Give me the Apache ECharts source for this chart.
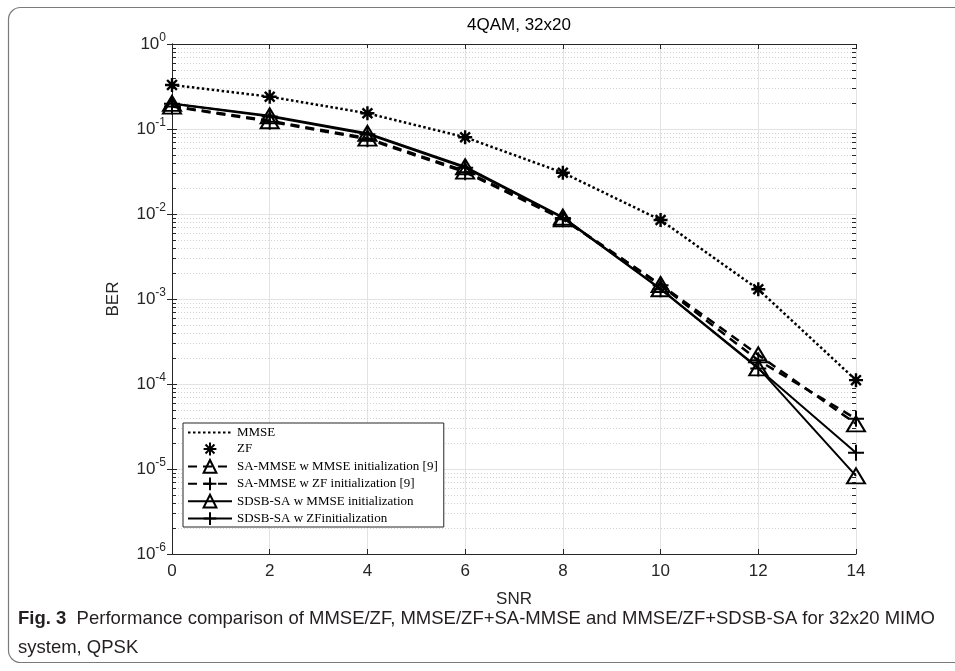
<!DOCTYPE html>
<html>
<head>
<meta charset="utf-8">
<title>4QAM, 32x20</title>
<script src="https://cdn.jsdelivr.net/npm/echarts@6.0.0/dist/echarts.min.js"></script>
<style>
  html, body { margin: 0; padding: 0; background: #fff; }
  #chart { width: 955px; height: 671px; }
</style>
</head>
<body>
<div id="chart"></div>
<script>
// SNR points
const snr = [0, 2, 4, 6, 8, 10, 12, 14];
// BER values
const mmse = [0.33, 0.24, 0.153, 0.080, 0.0306, 0.0085, 0.0013, 0.000111];
const zf = [0.33, 0.24, 0.153, 0.080, 0.0306, 0.0085, 0.0013, 0.000111];
const saMmseInit = [0.186, 0.125, 0.078, 0.032, 0.0088, 0.00148, 0.00022, 0.000034];
const saZfInit = [0.184, 0.122, 0.076, 0.031, 0.0087, 0.00145, 0.00019, 0.000039];
const sdsbMmseInit = [0.200, 0.143, 0.089, 0.036, 0.0092, 0.00132, 0.000155, 0.0000083];
const sdsbZfInit = [0.198, 0.140, 0.087, 0.035, 0.0090, 0.00130, 0.000152, 0.0000155];

const seriesNames = [
  'MMSE',
  'ZF',
  'SA-MMSE w MMSE initialization [9]',
  'SA-MMSE w ZF initialization [9]',
  'SDSB-SA w MMSE initialization',
  'SDSB-SA w ZFinitialization'
];
const xTicks = [0, 2, 4, 6, 8, 10, 12, 14];
const yDecades = [-6, -5, -4, -3, -2, -1, 0];

const axisColor = '#262626';
const sansFont = 'Liberation Sans, Arial, sans-serif';
const starPath = 'path://M0,-10L0,10M-10,0L10,0M-7,-7L7,7M-7,7L7,-7';
const plusPath = 'path://M0,-10L0,10M-10,0L10,0';
const triPath = 'path://M0,-9L10,8L-10,8Z';

function pairs (ys) {
  return snr.map((x, i) => [x, ys[i]]);
}

// minor log grid positions (2..9 x 10^k)
const minorVals = [];
yDecades.slice(0, -1).forEach(e => {
  for (let m = 2; m <= 9; m++) minorVals.push([0, m * Math.pow(10, e)]);
});

const chart = echarts.init(document.getElementById('chart'));

const markerStyle = {
  color: 'rgba(255,255,255,0)',
  borderColor: '#000',
  borderWidth: 2
};

const option = {
  animation: false,
  backgroundColor: '#fff',
  title: {
    text: '4QAM, 32x20',
    left: 514,
    textAlign: 'center',
    top: 12,
    textStyle: {
      fontFamily: sansFont,
      fontSize: 17,
      fontWeight: 'normal',
      color: '#000'
    }
  },
  grid: {
    left: 172,
    right: 99,
    top: 44,
    bottom: 117
  },
  legend: {
    data: seriesNames,
    orient: 'vertical',
    left: 183,
    top: 423,
    itemWidth: 44,
    itemHeight: 16,
    itemGap: 2.6,
    padding: [3, 6, 1, 4],
    backgroundColor: '#fff',
    borderColor: axisColor,
    borderWidth: 1,
    borderRadius: 0,
    textStyle: {
      fontFamily: 'Liberation Serif, Times New Roman, serif',
      fontSize: 13,
      color: '#000'
    }
  },
  xAxis: [
    {
      type: 'value',
      min: 0,
      max: 14,
      interval: 2,
      name: 'SNR',
      nameLocation: 'middle',
      nameGap: 37,
      nameTextStyle: {
        fontFamily: sansFont,
        fontSize: 17,
        color: axisColor
      },
      axisLine: { lineStyle: { color: axisColor, width: 1 } },
      axisTick: { inside: true, length: 5, lineStyle: { color: axisColor } },
      axisLabel: {
        margin: 9,
        fontFamily: sansFont,
        fontSize: 17,
        color: axisColor
      },
      splitLine: { show: true, lineStyle: { color: '#e3e3e3', width: 1 } }
    },
    {
      type: 'value',
      position: 'top',
      min: 0,
      max: 14,
      interval: 2,
      axisLine: { lineStyle: { color: axisColor, width: 1 } },
      axisTick: { inside: true, length: 5, lineStyle: { color: axisColor } },
      axisLabel: { show: false },
      splitLine: { show: false }
    }
  ],
  yAxis: [
    {
      type: 'log',
      logBase: 10,
      min: 1e-6,
      max: 1,
      name: 'BER',
      nameLocation: 'middle',
      nameGap: 50,
      nameTextStyle: {
        fontFamily: sansFont,
        fontSize: 17,
        color: axisColor
      },
      axisLine: { show: true, lineStyle: { color: axisColor, width: 1 } },
      axisTick: { show: true, inside: true, length: 5, lineStyle: { color: axisColor } },
      axisLabel: {
        margin: 6,
        color: axisColor,
        formatter: function (v) {
          const e = Math.round(Math.log10(v));
          return '{b|10}{s|' + e + '}';
        },
        rich: {
          b: {
            fontFamily: sansFont,
            fontSize: 17,
            color: axisColor
          },
          s: {
            fontFamily: sansFont,
            fontSize: 12,
            color: axisColor,
            padding: [0, 0, 12, 0]
          }
        }
      },
      splitLine: { show: true, lineStyle: { color: '#e3e3e3', width: 1 } }
    },
    {
      type: 'log',
      logBase: 10,
      position: 'right',
      min: 1e-6,
      max: 1,
      axisLine: { show: true, lineStyle: { color: axisColor, width: 1 } },
      axisTick: { show: true, inside: true, length: 5, lineStyle: { color: axisColor } },
      axisLabel: { show: false },
      splitLine: { show: false }
    }
  ],
  graphic: [
    {
      type: 'rect',
      shape: { x: 8.5, y: 7.5, width: 960, height: 655, r: 12 },
      style: { fill: 'none', stroke: '#7a7a7a', lineWidth: 1.2 },
      silent: true,
      z: 100
    },
    {
      type: 'text',
      left: 18,
      top: 609,
      style: {
        text: '{b|Fig. 3}  Performance comparison of MMSE/ZF, MMSE/ZF+SA-MMSE and MMSE/ZF+SDSB-SA for 32x20 MIMO',
        fontFamily: sansFont,
        fontSize: 18.5,
        fill: '#231f20',
        rich: {
          b: {
            fontFamily: sansFont,
            fontSize: 18.5,
            fontWeight: 'bold',
            fill: '#231f20'
          }
        }
      },
      z: 100
    },
    {
      type: 'text',
      left: 18,
      top: 638,
      style: {
        text: 'system, QPSK',
        fontFamily: sansFont,
        fontSize: 18.5,
        fill: '#231f20'
      },
      z: 100
    }
  ],
  series: [
    {
      type: 'custom',
      name: 'minor',
      silent: true,
      clip: false,
      z: 1,
      data: minorVals,
      renderItem: function (params, api) {
        const v = api.value(1);
        const p0 = api.coord([0, v]);
        const p1 = api.coord([14, v]);
        const y = Math.round(p0[1]) + 0.5;
        return {
          type: 'group',
          children: [
            {
              type: 'line',
              shape: { x1: p0[0], y1: y, x2: p1[0], y2: y },
              style: { stroke: '#d2d2d2', lineWidth: 1, lineDash: [1, 2] }
            },
            {
              type: 'line',
              shape: { x1: p0[0], y1: y, x2: p0[0] + 4, y2: y },
              style: { stroke: axisColor, lineWidth: 1 }
            },
            {
              type: 'line',
              shape: { x1: p1[0] - 4, y1: y, x2: p1[0], y2: y },
              style: { stroke: axisColor, lineWidth: 1 }
            }
          ]
        };
      }
    },
    {
      name: seriesNames[0],
      type: 'line',
      data: pairs(mmse),
      symbol: 'circle',
      showSymbol: false,
      z: 3,
      lineStyle: { color: '#000', width: 2.5, type: [2.5, 2.5] },
      itemStyle: { color: 'rgba(0,0,0,0)', borderWidth: 0 }
    },
    {
      name: seriesNames[1],
      type: 'line',
      data: pairs(zf),
      symbol: starPath,
      symbolSize: 14,
      z: 4,
      lineStyle: { color: '#000', width: 0 },
      itemStyle: { color: 'rgba(0,0,0,0)', borderColor: '#000', borderWidth: 2.4 }
    },
    {
      name: seriesNames[2],
      type: 'line',
      data: pairs(saMmseInit),
      symbol: triPath,
      symbolSize: [18, 15],
      z: 5,
      lineStyle: { color: '#000', width: 2.5, type: [9, 6] },
      itemStyle: markerStyle
    },
    {
      name: seriesNames[3],
      type: 'line',
      data: pairs(saZfInit),
      symbol: plusPath,
      symbolSize: 16,
      z: 5,
      lineStyle: { color: '#000', width: 2.5, type: [9, 6] },
      itemStyle: markerStyle
    },
    {
      name: seriesNames[4],
      type: 'line',
      data: pairs(sdsbMmseInit),
      symbol: triPath,
      symbolSize: [18, 15],
      z: 6,
      lineStyle: { color: '#000', width: 2 },
      itemStyle: markerStyle
    },
    {
      name: seriesNames[5],
      type: 'line',
      data: pairs(sdsbZfInit),
      symbol: plusPath,
      symbolSize: 16,
      z: 6,
      lineStyle: { color: '#000', width: 2 },
      itemStyle: markerStyle
    }
  ]
};

chart.setOption(option);
</script>
</body>
</html>
